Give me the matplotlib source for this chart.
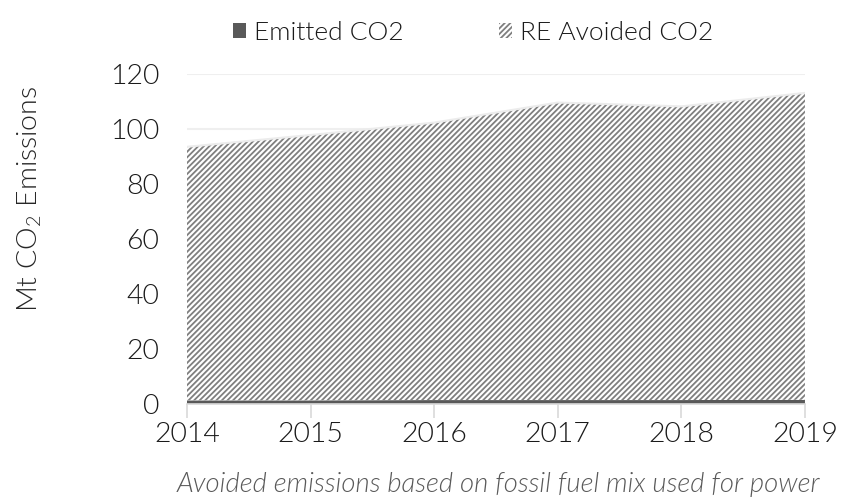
import matplotlib.pyplot as plt
import matplotlib as mpl

years = [2014, 2015, 2016, 2017, 2018, 2019]
emitted = [1.3, 1.3, 1.4, 1.4, 1.4, 1.5]
avoided = [92.2, 96.5, 100.9, 108.2, 106.8, 111.6]
y_ticks = [0, 20, 40, 60, 80, 100, 120]

plt.rcParams['font.family'] = ['Lato', 'DejaVu Sans']
plt.rcParams['font.weight'] = 300
mpl.rcParams['hatch.linewidth'] = 1.3
mpl.rcParams['hatch.color'] = '#7f7f7f'

fig = plt.figure(figsize=(8.42, 5.03), dpi=100)
ax = fig.add_axes([0.222, 0.197, 0.734, 0.656])

stacks = ax.stackplot(years, emitted, avoided,
                      colors=['#595959', 'white'],
                      labels=['Emitted CO2', 'RE Avoided CO2'],
                      linewidth=0)
stacks[1].set_hatch('//////')
stacks[1].set_edgecolor('#7f7f7f')
ax.plot(years, [e + a for e, a in zip(emitted, avoided)],
        color='#ececec', lw=1.5, zorder=3)

ax.set_xlim(2014, 2019)
ax.set_ylim(0, 120)
ax.set_yticks(y_ticks)
ax.set_xticks(years)
ax.set_xticklabels([str(y) for y in years])
ax.grid(axis='y', color='#efefef', lw=1.5, zorder=0)
ax.set_axisbelow(True)

for side in ['top', 'right', 'left']:
    ax.spines[side].set_visible(False)
ax.spines['bottom'].set_color('#d9d9d9')
ax.spines['bottom'].set_linewidth(1.2)

ax.tick_params(axis='y', length=0, pad=20, labelsize=20.5, labelcolor='#1a1a1a')
ax.tick_params(axis='x', length=10, width=1.2, color='#d9d9d9', pad=3,
               labelsize=20.5, labelcolor='#1a1a1a')

ax.set_ylabel(r'Mt CO$_\mathregular{2}$ Emissions', fontsize=20.5, color='#262626',
              fontweight=300, va='center')
ax.yaxis.set_label_coords(-0.254, 0.62)

leg = fig.legend(loc='center', bbox_to_anchor=(0.562, 0.935), ncol=2,
                 frameon=False, fontsize=19, handlelength=0.5,
                 handleheight=0.5, handletextpad=0.3, columnspacing=3.6)
for t in leg.get_texts():
    t.set_color('#1a1a1a')

fig.text(0.592, 0.036, 'Avoided emissions based on fossil fuel mix used for power',
         ha='center', va='center', fontsize=19.8, style='italic',
         color='#595959')

fig.savefig('out.png', dpi=100)
